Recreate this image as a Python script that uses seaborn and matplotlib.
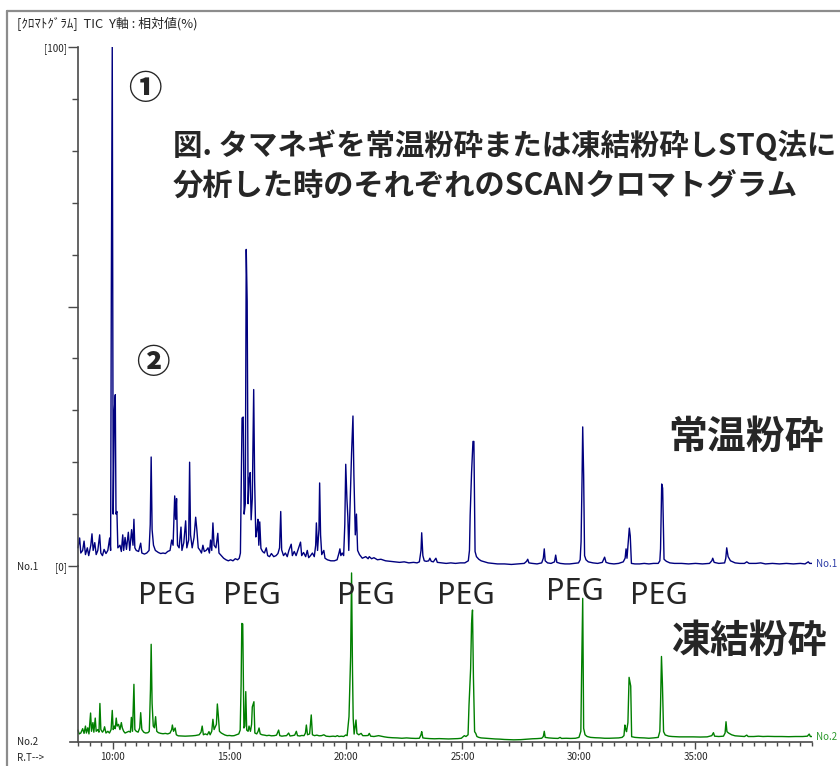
import matplotlib
matplotlib.use("Agg")
import matplotlib.pyplot as plt
import seaborn as sns
import pandas as pd
from matplotlib.lines import Line2D
from matplotlib.ticker import MultipleLocator

# ---------------- data (retention time in minutes, relative intensity %) ----------------
rt1 = [8.50, 8.57, 8.62, 8.70, 8.76, 8.82, 8.90, 8.96, 9.05, 9.10, 9.15, 9.22, 9.28, 9.35, 9.43,
       9.48, 9.55, 9.62, 9.70, 9.78, 9.86, 9.90, 9.93, 9.97, 10.01, 10.06, 10.10, 10.13, 10.17, 10.21,
       10.30, 10.36, 10.42, 10.46, 10.52, 10.58, 10.66, 10.72, 10.80, 10.86, 10.90, 10.94, 11.00, 11.10,
       11.19, 11.24, 11.35, 11.45, 11.55, 11.60, 11.64, 11.68, 11.74, 11.82, 11.95, 12.05, 12.15, 12.25,
       12.35, 12.45, 12.52, 12.58, 12.65, 12.69, 12.73, 12.77, 12.84, 12.92, 12.96, 13.04, 13.12, 13.17,
       13.25, 13.29, 13.33, 13.40, 13.48, 13.55, 13.60, 13.66, 13.74, 13.80, 13.86, 13.92, 14.00, 14.08,
       14.14, 14.19, 14.24, 14.29, 14.34, 14.42, 14.50, 14.55, 14.65, 14.75, 14.85, 14.95, 15.05, 15.15,
       15.25, 15.35, 15.42, 15.47, 15.51, 15.54, 15.59, 15.63, 15.68, 15.72, 15.76, 15.80, 15.84, 15.89,
       15.93, 15.98, 16.04, 16.08, 16.13, 16.18, 16.22, 16.26, 16.30, 16.35, 16.42, 16.50, 16.58, 16.64,
       16.72, 16.80, 16.90, 17.00, 17.08, 17.15, 17.20, 17.24, 17.32, 17.40, 17.48, 17.55, 17.65, 17.70,
       17.78, 17.86, 17.95, 18.05, 18.10, 18.18, 18.27, 18.34, 18.40, 18.48, 18.56, 18.64, 18.70, 18.73,
       18.78, 18.84, 18.87, 18.91, 18.96, 19.05, 19.10, 19.20, 19.35, 19.50, 19.62, 19.70, 19.74, 19.78,
       19.84, 19.90, 19.95, 19.99, 20.04, 20.08, 20.12, 20.20, 20.24, 20.30, 20.34, 20.40, 20.45, 20.50,
       20.58, 20.70, 20.85, 20.95, 21.00, 21.10, 21.20, 21.35, 21.50, 21.70, 21.90, 22.10, 22.30, 22.50,
       22.70, 22.90, 23.05, 23.15, 23.22, 23.25, 23.30, 23.36, 23.45, 23.55, 23.60, 23.66, 23.75, 23.86,
       23.92, 24.10, 24.30, 24.50, 24.70, 24.90, 25.10, 25.25, 25.30, 25.33, 25.39, 25.45, 25.49, 25.54,
       25.60, 25.70, 25.80, 25.95, 26.10, 26.30, 26.50, 26.80, 27.10, 27.40, 27.65, 27.75, 27.80, 27.85,
       28.00, 28.20, 28.40, 28.47, 28.51, 28.55, 28.65, 28.80, 28.95, 29.00, 29.05, 29.20, 29.40, 29.60,
       29.80, 29.98, 30.05, 30.09, 30.13, 30.16, 30.20, 30.24, 30.30, 30.40, 30.60, 30.80, 31.00, 31.10,
       31.16, 31.30, 31.50, 31.70, 31.90, 31.98, 32.02, 32.06, 32.16, 32.20, 32.25, 32.40, 32.60, 32.80,
       33.00, 33.20, 33.40, 33.47, 33.50, 33.55, 33.59, 33.65, 33.75, 33.90, 34.10, 34.40, 34.70, 35.00,
       35.30, 35.60, 35.70, 35.74, 35.80, 36.00, 36.25, 36.30, 36.34, 36.40, 36.50, 36.70, 36.90, 37.10,
       37.20, 37.30, 37.60, 37.80, 38.00, 38.30, 38.60, 38.90, 39.20, 39.50, 39.70, 39.84, 39.90, 40.00]
int1 = [3.5, 5.4, 2.5, 3.0, 4.8, 2.2, 3.5, 2.0, 4.0, 6.2, 3.0, 4.5, 2.2, 3.0, 6.0,
        2.5, 2.0, 3.2, 2.4, 3.0, 5.4, 3.0, 53, 100, 10, 30, 33, 10, 10.5, 3.5,
        4.0, 2.8, 6.0, 3.0, 5.5, 3.2, 6.5, 3.0, 7.0, 4.0, 9.0, 3.5, 3.0, 2.8,
        4.4, 2.5, 2.3, 2.5, 3.0, 8.0, 21, 7.0, 4.0, 3.0, 2.6, 2.4, 2.5, 2.4,
        2.8, 3.0, 5.0, 4.0, 13.5, 9.0, 13, 4.0, 3.5, 7.5, 3.0, 4.5, 8.7, 3.5,
        5.0, 20, 6.0, 3.5, 5.5, 9.4, 7.0, 3.5, 3.0, 2.5, 4.0, 2.8, 3.0, 3.5,
        2.5, 5.0, 3.0, 8.3, 4.0, 3.5, 6.3, 2.5, 2.0, 1.5, 1.2, 1.0, 1.2, 1.0,
        1.4, 1.2, 1.5, 2.5, 18, 28.5, 28.7, 10, 12, 61, 51, 12, 16.5, 18,
        8.9, 13, 34, 16.5, 5.6, 7.0, 9.0, 4.0, 8.5, 3.4, 2.8, 2.5, 3.5, 2.0,
        1.8, 2.4, 1.8, 2.0, 2.4, 3.5, 10.5, 3.1, 2.0, 2.5, 1.8, 3.0, 4.2, 2.0,
        2.8, 2.0, 3.2, 4.6, 2.0, 2.6, 1.8, 3.0, 1.6, 2.0, 2.5, 1.8, 4.0, 8.3,
        3.0, 7.0, 16, 6.0, 2.2, 3.0, 1.5, 1.2, 1.0, 1.0, 1.2, 2.5, 3.3, 2.0,
        2.5, 2.0, 8.0, 19.6, 13, 9.5, 3.0, 15, 21.7, 28.9, 17.5, 6.0, 10, 3.0,
        2.2, 1.5, 1.8, 1.4, 1.8, 1.4, 1.6, 1.2, 1.3, 1.0, 0.9, 0.8, 0.7, 0.8,
        0.6, 0.7, 0.6, 0.8, 3.0, 6.4, 2.0, 1.0, 0.9, 1.0, 1.5, 0.9, 0.8, 1.5,
        0.7, 0.6, 0.5, 0.6, 0.5, 0.6, 0.6, 1.0, 3.0, 9.8, 18, 24, 24, 2.8,
        1.8, 1.3, 1.0, 0.8, 0.6, 0.5, 0.4, 0.4, 0.3, 0.4, 0.5, 0.9, 1.3, 0.6,
        0.5, 0.4, 0.6, 1.5, 3.3, 1.0, 0.6, 0.5, 0.8, 2.1, 0.7, 0.5, 0.4, 0.4,
        0.5, 0.6, 1.2, 4.7, 16.4, 26.8, 17.5, 2.0, 1.2, 0.8, 0.6, 0.5, 0.7, 1.7,
        0.7, 0.5, 0.4, 0.5, 0.8, 1.5, 3.3, 1.5, 7.3, 5.8, 0.5, 0.4, 0.4, 0.5,
        0.4, 0.5, 0.5, 1.0, 3.3, 15.8, 15.0, 1.3, 0.9, 0.6, 0.5, 0.5, 0.4, 0.5,
        0.4, 0.5, 1.0, 1.5, 0.7, 0.5, 0.6, 1.5, 3.5, 1.8, 1.0, 0.6, 0.5, 0.5,
        0.8, 0.5, 0.5, 0.6, 0.4, 0.5, 0.4, 0.5, 0.4, 0.5, 0.4, 0.8, 0.5, 0.5]

rt2 = [8.50, 8.55, 8.62, 8.70, 8.76, 8.82, 8.86, 8.92, 8.97, 9.04, 9.08, 9.14, 9.18, 9.24, 9.28,
       9.35, 9.40, 9.44, 9.48, 9.55, 9.60, 9.64, 9.70, 9.78, 9.85, 9.92, 9.97, 10.01, 10.06, 10.10,
       10.14, 10.18, 10.24, 10.30, 10.36, 10.40, 10.46, 10.52, 10.60, 10.68, 10.75, 10.79, 10.84, 10.90,
       10.94, 11.00, 11.08, 11.15, 11.19, 11.24, 11.32, 11.40, 11.50, 11.56, 11.61, 11.64, 11.68, 11.73,
       11.78, 11.83, 11.88, 11.95, 12.05, 12.15, 12.25, 12.35, 12.45, 12.52, 12.55, 12.60, 12.67, 12.72,
       12.80, 12.95, 13.10, 13.25, 13.40, 13.55, 13.70, 13.78, 13.83, 13.88, 13.96, 14.05, 14.12, 14.17,
       14.24, 14.29, 14.34, 14.44, 14.48, 14.52, 14.57, 14.65, 14.72, 14.80, 14.90, 15.00, 15.10, 15.20,
       15.30, 15.40, 15.46, 15.50, 15.53, 15.57, 15.62, 15.66, 15.70, 15.74, 15.80, 15.84, 15.90, 15.95,
       15.98, 16.05, 16.09, 16.17, 16.23, 16.27, 16.32, 16.40, 16.50, 16.60, 16.70, 16.80, 16.92, 17.02,
       17.11, 17.16, 17.25, 17.35, 17.45, 17.54, 17.60, 17.70, 17.80, 17.87, 17.92, 18.02, 18.10, 18.20,
       18.26, 18.30, 18.35, 18.44, 18.51, 18.56, 18.65, 18.75, 18.85, 18.95, 19.05, 19.15, 19.30, 19.45,
       19.55, 19.63, 19.70, 19.80, 19.90, 19.99, 20.05, 20.13, 20.20, 20.24, 20.28, 20.31, 20.35, 20.43,
       20.47, 20.55, 20.65, 20.72, 20.85, 20.95, 21.00, 21.06, 21.20, 21.40, 21.50, 21.65, 21.80, 22.00,
       22.20, 22.40, 22.60, 22.80, 23.00, 23.15, 23.22, 23.25, 23.30, 23.40, 23.60, 23.80, 24.00, 24.20,
       24.40, 24.60, 24.80, 24.95, 25.08, 25.15, 25.24, 25.28, 25.35, 25.39, 25.43, 25.47, 25.52, 25.57,
       25.62, 25.70, 25.80, 26.00, 26.20, 26.40, 26.60, 26.80, 27.00, 27.20, 27.50, 27.80, 28.00, 28.20,
       28.40, 28.47, 28.51, 28.55, 28.70, 28.90, 29.10, 29.19, 29.25, 29.45, 29.65, 29.85, 30.00, 30.08,
       30.11, 30.16, 30.20, 30.26, 30.35, 30.50, 30.70, 30.90, 31.10, 31.30, 31.50, 31.70, 31.85, 31.93,
       31.97, 32.01, 32.04, 32.10, 32.15, 32.22, 32.26, 32.40, 32.60, 32.80, 33.00, 33.20, 33.40, 33.47,
       33.50, 33.54, 33.58, 33.63, 33.70, 33.85, 34.00, 34.30, 34.60, 34.90, 35.20, 35.50, 35.70, 35.77,
       35.82, 36.00, 36.20, 36.27, 36.31, 36.35, 36.42, 36.55, 36.70, 36.90, 37.10, 37.20, 37.26, 37.50,
       37.70, 37.90, 38.10, 38.40, 38.70, 39.00, 39.30, 39.60, 39.80, 39.88, 39.93, 40.00]
int2 = [5.7, 3.5, 4.0, 6.5, 3.8, 8.0, 4.0, 7.0, 3.5, 15.5, 5.0, 10, 4.5, 12.6, 5.0,
        6.0, 4.5, 21, 6.0, 4.5, 5.5, 7.6, 4.0, 5.0, 4.0, 6.0, 17, 6.0, 8.0, 6.5,
        12.6, 8.0, 9.0, 6.0, 10, 7.0, 5.0, 4.0, 4.5, 5.0, 4.5, 13, 5.0, 32,
        6.0, 5.0, 4.5, 7.0, 15.7, 6.0, 4.5, 4.0, 4.2, 5.0, 29, 55, 21, 8.0,
        7.0, 13.4, 5.0, 4.2, 3.8, 3.6, 3.8, 3.5, 4.0, 6.0, 8.6, 5.0, 6.9, 3.0,
        2.4, 2.3, 2.2, 2.3, 2.4, 2.6, 3.0, 4.5, 8.0, 3.0, 3.5, 3.0, 4.8, 3.0,
        5.0, 11.9, 6.0, 9.0, 20.7, 14.4, 5.0, 4.0, 3.5, 2.9, 2.5, 2.6, 2.4, 2.5,
        3.0, 3.5, 5.7, 32, 67, 66.7, 6.9, 8.0, 27.8, 5.7, 5.0, 8.0, 5.0, 9.0,
        19, 22, 4.0, 3.5, 5.0, 6.9, 3.5, 3.0, 2.8, 2.5, 2.7, 2.4, 2.5, 2.8,
        5.7, 2.5, 2.2, 2.4, 2.5, 4.0, 2.3, 2.5, 2.8, 5.0, 2.5, 2.3, 2.6, 2.5,
        4.0, 8.6, 3.0, 3.5, 14.4, 3.0, 2.5, 2.8, 2.4, 2.5, 3.0, 2.2, 2.0, 2.2,
        2.0, 2.5, 2.0, 2.2, 2.0, 2.9, 2.5, 13.4, 48, 96, 40, 12.5, 3.4, 11.5,
        3.8, 3.0, 3.8, 2.5, 2.5, 2.6, 3.8, 2.2, 2.0, 2.5, 2.2, 1.8, 1.5, 1.3,
        1.2, 1.0, 1.2, 1.0, 0.9, 1.0, 3.0, 4.8, 1.2, 1.0, 0.8, 0.7, 0.8, 0.7,
        0.6, 0.7, 0.8, 1.0, 2.5, 2.0, 3.0, 20, 41, 67, 74.7, 36, 4.8, 3.8,
        2.0, 1.5, 1.2, 1.0, 0.8, 0.6, 0.5, 0.3, 0.2, 0.1, 0.2, 0.5, 0.7, 0.8,
        1.0, 2.0, 5.0, 1.5, 1.2, 1.0, 0.9, 1.5, 0.9, 1.0, 0.9, 1.0, 1.5, 5.0,
        36, 81.4, 6.7, 3.0, 2.0, 1.5, 1.3, 1.2, 1.0, 1.0, 1.1, 1.2, 1.5, 2.5,
        8.6, 6.0, 4.8, 10, 36, 31, 1.9, 1.5, 1.3, 1.2, 1.0, 1.2, 1.5, 5.0,
        20, 48, 32.6, 4.8, 2.9, 2.2, 2.0, 1.8, 1.8, 1.8, 1.7, 1.8, 2.5, 4.2,
        2.2, 2.0, 2.2, 4.0, 10.5, 4.8, 4.0, 3.0, 2.4, 2.2, 2.0, 2.8, 2.0, 2.0,
        2.2, 2.0, 2.1, 2.0, 2.0, 1.9, 2.0, 2.0, 2.2, 3.4, 2.0, 2.0]

major_ticks = [10, 15, 20, 25, 30, 35]
major_labels = ["10:00", "15:00", "20:00", "25:00", "30:00", "35:00"]
peg_labels = ["PEG"] * 6
sample_labels = ["常温粉砕", "凍結粉砕"]

# ---------------- figure ----------------
sns.set_theme(style="white")
plt.rcParams['font.family'] = ['Noto Sans CJK JP', 'DejaVu Sans']

W, H = 840, 766
fig = plt.figure(figsize=(W / 100, H / 100), dpi=100)
fig.patch.set_facecolor("white")


def fx(px):
    return px / W


def fy(py):
    return 1 - py / H


px_per_min = 23.3
t_start = 8.5
x_left_px, x_right_px = 70, 812
t_left = t_start - (78 - x_left_px) / px_per_min
t_right = 40.0

spine_col = "#4a4a4a"

ax1 = fig.add_axes([fx(x_left_px), fy(566), fx(x_right_px - x_left_px), (566 - 47) / H])
ax2 = fig.add_axes([fx(x_left_px), fy(742), fx(x_right_px - x_left_px), (742 - 566) / H])
for ax in (ax1, ax2):
    ax.patch.set_alpha(0)
    ax.set_xlim(t_left, t_right)
    for s in ("top", "right"):
        ax.spines[s].set_visible(False)
    ax.spines["left"].set_position(("data", t_start))
    ax.spines["left"].set_color(spine_col)
    ax.spines["left"].set_linewidth(1.2)

df1 = pd.DataFrame({"rt": rt1, "y": int1})
df2 = pd.DataFrame({"rt": rt2, "y": int2})
sns.lineplot(data=df1, x="rt", y="y", ax=ax1, color="#00007f", linewidth=1.0,
             estimator=None, sort=False)
sns.lineplot(data=df2, x="rt", y="y", ax=ax2, color="#007f00", linewidth=1.0,
             estimator=None, sort=False)
for ax in (ax1, ax2):
    ax.set_xlabel("")
    ax.set_ylabel("")

# top axis (blue)
ax1.set_ylim(0, 100)
ax1.spines["bottom"].set_visible(False)
ax1.set_xticks([])
ax1.set_yticks([0, 50, 100])
ax1.set_yticklabels(["[0]", "", "[100]"], fontsize=7)
ax1.yaxis.set_minor_locator(MultipleLocator(10))
ax1.tick_params(axis="y", which="major", direction="out", length=7, width=1, color=spine_col,
                pad=1, left=True)
ax1.tick_params(axis="y", which="minor", direction="out", length=4, width=1, color=spine_col,
                left=True)

# bottom axis (green)
ax2.set_ylim(-2 / 1.74, 100)
ax2.set_yticks([])
ax2.spines["bottom"].set_color(spine_col)
ax2.spines["bottom"].set_linewidth(1.2)
ax2.set_xticks(major_ticks)
ax2.set_xticklabels(major_labels, fontsize=7)
ax2.xaxis.set_minor_locator(MultipleLocator(0.5))
ax2.tick_params(axis="x", which="major", direction="out", length=5, width=1, color=spine_col,
                pad=2, bottom=True)
ax2.tick_params(axis="x", which="minor", direction="out", length=3, width=1, color=spine_col,
                bottom=True)

# outer frame
fig.add_artist(Line2D([fx(7), fx(7)], [fy(11), 0], transform=fig.transFigure,
                      color="#8c8c8c", lw=1.6))
fig.add_artist(Line2D([fx(7), 1], [fy(11), fy(11)], transform=fig.transFigure,
                      color="#8c8c8c", lw=1.6))

# header and side labels
fig.text(fx(17), fy(24), "[ｸﾛﾏﾄｸﾞﾗﾑ]  TIC  Y軸 : 相対値(%)", fontsize=9.3, ha="left", va="center")
fig.text(fx(17), fy(567), "No.1", fontsize=7, ha="left", va="center")
fig.text(fx(17), fy(742), "No.2", fontsize=7, ha="left", va="center")
fig.text(fx(17), fy(758), "R.T-->", fontsize=7, ha="left", va="center")
fig.text(fx(816), fy(564), "No.1", fontsize=7, ha="left", va="center", color="#2f3fa8")
fig.text(fx(816), fy(737), "No.2", fontsize=7, ha="left", va="center", color="#2e9a2e")

# annotations
fig.text(fx(145), fy(88), "①", fontsize=24, fontweight="heavy", ha="center", va="center")
fig.text(fx(153), fy(362), "②", fontsize=24, fontweight="heavy", ha="center", va="center")
fig.text(fx(173), fy(145), "図. タマネギを常温粉砕または凍結粉砕しSTQ法に", fontsize=21.2,
         fontweight="bold", ha="left", va="center")
fig.text(fx(173), fy(187), "分析した時のそれぞれのSCANクロマトグラム", fontsize=21.8,
         fontweight="bold", ha="left", va="center")
fig.text(fx(746), fy(437), sample_labels[0], fontsize=28, fontweight="bold", ha="center", va="center")
fig.text(fx(750), fy(641), sample_labels[1], fontsize=28, fontweight="bold", ha="center", va="center")

peg_pos = [(167, 596), (252, 596), (366, 596), (466, 596), (575, 592), (659, 596)]
for lab, (px, py) in zip(peg_labels, peg_pos):
    fig.text(fx(px), fy(py), lab, fontsize=22, ha="center", va="center",
             family=["Noto Sans", "DejaVu Sans"])

fig.savefig("out.png", dpi=100)
